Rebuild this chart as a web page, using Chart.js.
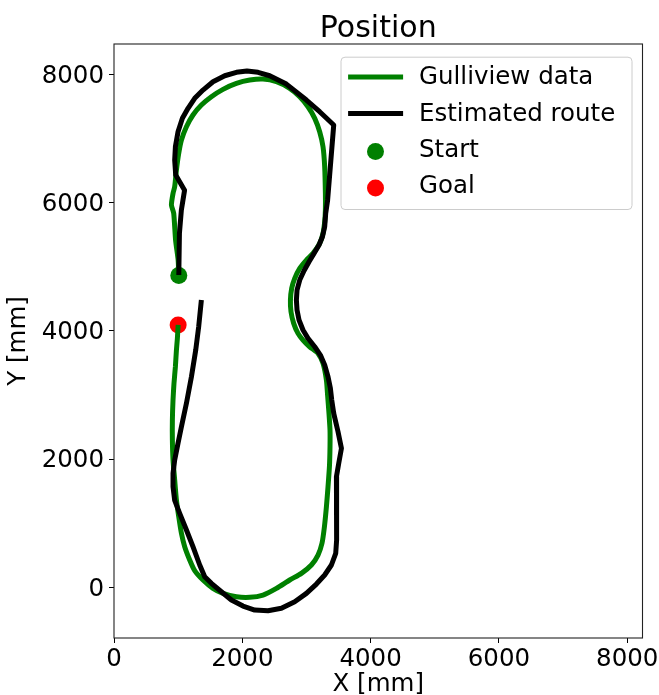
<!DOCTYPE html>
<html>
<head>
<meta charset="utf-8">
<title>Position</title>
<script src="https://cdn.jsdelivr.net/npm/chart.js@4.4.1/dist/chart.umd.min.js"></script>
<style>
  html, body { margin: 0; padding: 0; background: #ffffff; }
  canvas { display: block; }
</style>
</head>
<body>
<canvas id="chart" width="659" height="695"></canvas>
<script>
// Tick values on both axes (mm)
const xTicks = [0, 2000, 4000, 6000, 8000];
const yTicks = [0, 2000, 4000, 6000, 8000];

// Camera-tracked position from the Gulliview system (mm)
const gulliviewX = [1010, 1000, 960, 931, 895, 920, 946, 973, 1009, 1051, 1129, 1231, 1362, 1518, 1699, 1908, 2116, 2323, 2532, 2739, 2895, 3024, 3129, 3206, 3258, 3284, 3295, 3295, 3284, 3258, 3206, 3102, 2999, 2895, 2817, 2770, 2750, 2759, 2801, 2868, 2946, 3050, 3180, 3258, 3311, 3330, 3351, 3367, 3367, 3358, 3336, 3311, 3280, 3242, 3180, 3077, 2921, 2739, 2532, 2323, 2115, 1908, 1699, 1543, 1387, 1258, 1180, 1102, 1051, 1009, 973, 946, 920, 910, 910, 920, 935, 957, 973, 988, 1000];
const gulliviewY = [4860, 5100, 5410, 5830, 5960, 6140, 6245, 6505, 6765, 6972, 7180, 7363, 7518, 7648, 7763, 7856, 7908, 7924, 7882, 7779, 7648, 7492, 7311, 7102, 6868, 6556, 6142, 5881, 5700, 5518, 5362, 5206, 5102, 4973, 4817, 4661, 4478, 4296, 4115, 3959, 3855, 3750, 3648, 3492, 3231, 2990, 2712, 2452, 2192, 1880, 1568, 1256, 945, 686, 503, 348, 218, 114, -16, -120, -156, -147, -94, -16, 114, 260, 426, 633, 842, 1101, 1361, 1673, 1984, 2296, 2608, 2920, 3180, 3439, 3699, 3881, 4090];

// Route estimated on board the vehicle (mm)
const routeX = [1010, 1020, 1050, 1100, 962, 946, 957, 998, 1066, 1154, 1258, 1387, 1543, 1726, 1908, 2073, 2245, 2427, 2687, 2999, 3206, 3425, 3330, 3300, 3284, 3249, 3196, 3118, 3040, 2962, 2895, 2853, 2843, 2853, 2884, 2946, 3024, 3129, 3217, 3284, 3336, 3373, 3394, 3425, 3492, 3545, 3503, 3467, 3467, 3467, 3476, 3456, 3389, 3284, 3155, 2999, 2817, 2609, 2401, 2193, 2011, 1830, 1674, 1518, 1414, 1336, 1231, 1129, 1024, 946, 920, 920, 946, 998, 1051, 1129, 1207, 1274, 1320, 1362];
const routeY = [4870, 5520, 5880, 6190, 6427, 6661, 6868, 7102, 7311, 7467, 7623, 7752, 7881, 7975, 8028, 8049, 8028, 7975, 7845, 7596, 7414, 7207, 6037, 5830, 5621, 5465, 5336, 5206, 5075, 4935, 4790, 4634, 4478, 4323, 4167, 4011, 3881, 3750, 3621, 3465, 3283, 3102, 2920, 2712, 2426, 2167, 1933, 1724, 1412, 1049, 737, 530, 348, 192, 51, -94, -224, -327, -365, -354, -292, -198, -69, 62, 165, 348, 633, 894, 1153, 1356, 1568, 1777, 1984, 2245, 2503, 2868, 3283, 3700, 4062, 4478];

// Start and goal positions (mm)
const startPos = [1010, 4860];
const goalPos = [1000, 4090];

// Visible axis window (mm)
const xRange = [0, 8238];
const yRange = [-790, 8470];

const toPoints = (xs, ys) => xs.map((x, i) => ({ x: x, y: ys[i] }));

Chart.defaults.font.family = "'DejaVu Sans', 'Liberation Sans', sans-serif";
Chart.defaults.color = '#000000';

// Black frame around the plotting area
const frame = {
  id: 'frame',
  afterDatasetsDraw(chart) {
    const { ctx, chartArea: a } = chart;
    ctx.save();
    ctx.strokeStyle = '#222222';
    ctx.lineWidth = 1.1;
    ctx.strokeRect(a.left, a.top, a.right - a.left, a.bottom - a.top);
    ctx.restore();
  }
};

// Boxed legend in the upper right corner of the plotting area
const boxedLegend = {
  id: 'boxedLegend',
  afterDraw(chart) {
    const { ctx, chartArea: a } = chart;
    const w = 291, h = 152.3;
    const right = a.right - 11;
    const top = a.top + 12.7;
    const left = right - w;
    ctx.save();
    ctx.beginPath();
    ctx.roundRect(left + 0.5, top + 0.5, w, h, 4);
    ctx.fillStyle = 'rgba(255,255,255,0.8)';
    ctx.fill();
    ctx.strokeStyle = '#cccccc';
    ctx.lineWidth = 1;
    ctx.stroke();

    const rowY = [19.5, 56, 92.3, 128.8];
    chart.data.datasets.forEach((ds, i) => {
      const y = top + rowY[i];
      if (ds.showLine) {
        ctx.beginPath();
        ctx.moveTo(left + 7.6, y + 0.7);
        ctx.lineTo(left + 62.6, y + 0.7);
        ctx.strokeStyle = ds.borderColor;
        ctx.lineWidth = ds.borderWidth;
        ctx.lineCap = 'butt';
        ctx.stroke();
      } else {
        ctx.beginPath();
        ctx.arc(left + 35, y + 2.5, ds.pointRadius, 0, Math.PI * 2);
        ctx.fillStyle = ds.backgroundColor;
        ctx.fill();
      }
      ctx.fillStyle = '#000000';
      ctx.font = "24.5px 'DejaVu Sans'";
      ctx.textBaseline = 'middle';
      ctx.textAlign = 'left';
      ctx.fillText(ds.label, left + 78.5, y + 1.5);
    });
    ctx.restore();
  }
};

const tickFont = { size: 24.5, lineHeight: 1.2 };
const titleFont = { size: 24.5, lineHeight: 1 };
const plainNumber = (v) => String(v);

new Chart(document.getElementById('chart'), {
  type: 'scatter',
  data: {
    datasets: [
      {
        label: 'Gulliview data',
        data: toPoints(gulliviewX, gulliviewY),
        showLine: true,
        borderColor: '#008000',
        backgroundColor: '#008000',
        borderWidth: 5,
        borderJoinStyle: 'round',
        pointRadius: 0,
        tension: 0.2,
        order: 1
      },
      {
        label: 'Estimated route',
        data: toPoints(routeX, routeY),
        showLine: true,
        borderColor: '#000000',
        backgroundColor: '#000000',
        borderWidth: 5,
        borderJoinStyle: 'round',
        pointRadius: 0,
        tension: 0,
        order: 0
      },
      {
        label: 'Start',
        data: [{ x: startPos[0], y: startPos[1] }],
        showLine: false,
        backgroundColor: '#008000',
        borderWidth: 0,
        pointRadius: 8.5,
        order: 2
      },
      {
        label: 'Goal',
        data: [{ x: goalPos[0], y: goalPos[1] }],
        showLine: false,
        backgroundColor: '#ff0000',
        borderWidth: 0,
        pointRadius: 8.5,
        order: 2
      }
    ]
  },
  options: {
    responsive: false,
    animation: false,
    devicePixelRatio: 1,
    events: [],
    layout: { padding: { top: 0, left: 0, right: 16.5, bottom: 0 } },
    plugins: {
      legend: { display: false },
      tooltip: { enabled: false },
      title: {
        display: true,
        text: 'Position',
        fullSize: false,
        color: '#000000',
        font: { size: 30, weight: 'normal', lineHeight: 1 },
        padding: { top: 14, bottom: 0 }
      }
    },
    scales: {
      x: {
        type: 'linear',
        min: xRange[0],
        max: xRange[1],
        afterBuildTicks(scale) { scale.ticks = xTicks.map(v => ({ value: v })); },
        afterFit(scale) {
          scale.height = 57;
          scale.paddingLeft = 0; scale.paddingRight = 0;
          scale.paddingTop = 0; scale.paddingBottom = 0;
        },
        grid: { display: true, drawOnChartArea: false, drawTicks: true, tickLength: 5, tickColor: '#000000', tickWidth: 1 },
        border: { display: false },
        ticks: { font: tickFont, color: '#000000', padding: 2, maxRotation: 0, autoSkip: false, callback: plainNumber },
        title: { display: true, text: 'X [mm]', color: '#000000', font: titleFont, padding: { top: 0, bottom: -2 } }
      },
      y: {
        type: 'linear',
        min: yRange[0],
        max: yRange[1],
        afterBuildTicks(scale) { scale.ticks = yTicks.map(v => ({ value: v })); },
        afterFit(scale) {
          scale.width = 114;
          scale.paddingLeft = 0; scale.paddingRight = 0;
          scale.paddingTop = 0; scale.paddingBottom = 0;
        },
        grid: { display: true, drawOnChartArea: false, drawTicks: true, tickLength: 5, tickColor: '#000000', tickWidth: 1 },
        border: { display: false },
        ticks: { font: tickFont, color: '#000000', padding: 5, labelOffset: 2, autoSkip: false, callback: plainNumber },
        title: { display: true, text: 'Y [mm]', color: '#000000', font: titleFont, padding: { top: 6, bottom: 0 } }
      }
    }
  },
  plugins: [frame, boxedLegend]
});
</script>
</body>
</html>
